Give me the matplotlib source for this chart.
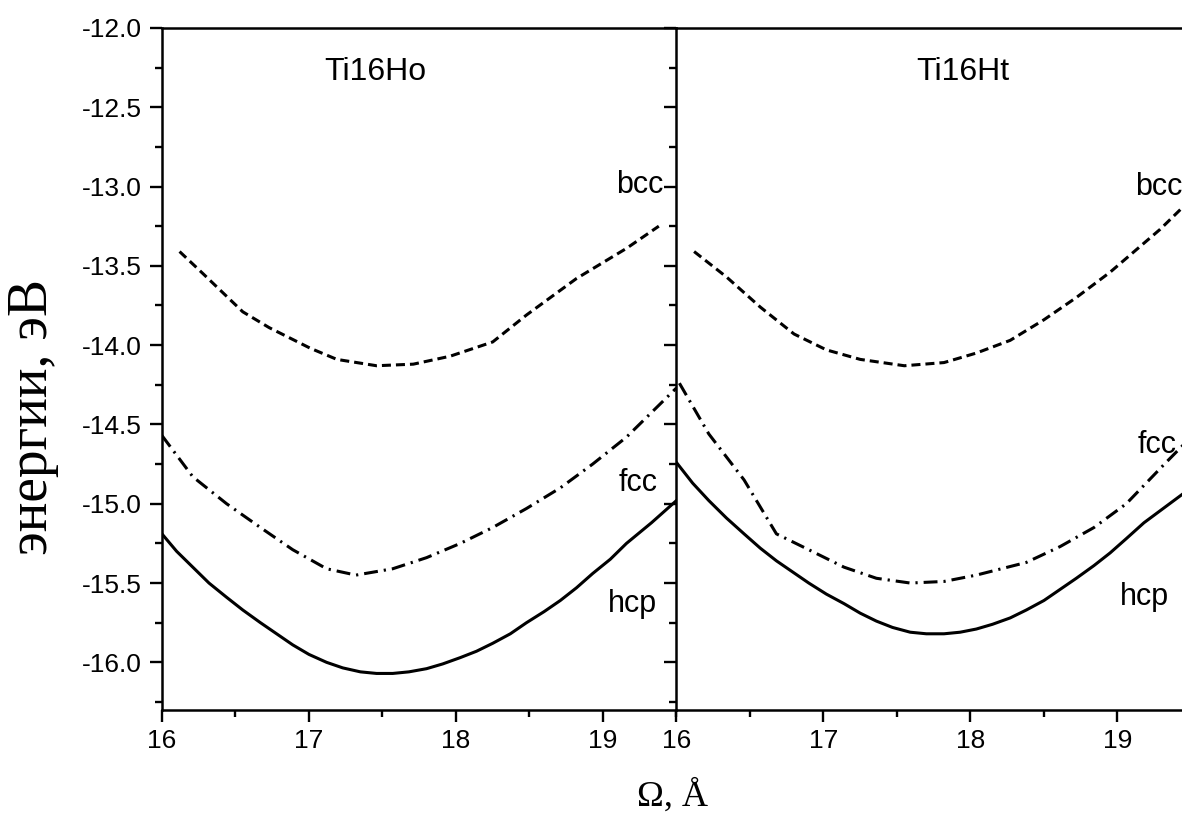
import matplotlib
matplotlib.use("Agg")
import matplotlib.pyplot as plt
from matplotlib.ticker import MultipleLocator, FormatStrFormatter

plt.rcParams['font.family'] = ['Liberation Sans', 'DejaVu Sans']
plt.rcParams['lines.scale_dashes'] = False

# Ti16Ho (левая панель)
ho_bcc_x = [16.12, 16.28, 16.55, 16.73, 17.01, 17.19, 17.46, 17.71, 17.96, 18.25, 18.48, 18.82, 19.16, 19.38]
ho_bcc_y = [-13.41, -13.55, -13.79, -13.89, -14.02, -14.09, -14.13, -14.12, -14.07, -13.98, -13.81, -13.58, -13.39, -13.25]

ho_fcc_x = [16.0, 16.21, 16.44, 16.67, 16.89, 17.12, 17.32, 17.57, 17.80, 18.03, 18.25, 18.48, 18.71, 18.93, 19.16, 19.5]
ho_fcc_y = [-14.57, -14.83, -15.0, -15.15, -15.29, -15.41, -15.45, -15.41, -15.34, -15.25, -15.15, -15.03, -14.90, -14.75, -14.58, -14.27]

ho_hcp_x = [16.0, 16.1, 16.21, 16.32, 16.44, 16.55, 16.67, 16.78, 16.89, 17.0, 17.12, 17.23, 17.35, 17.46, 17.57, 17.68,
            17.80, 17.91, 18.03, 18.14, 18.25, 18.37, 18.48, 18.6, 18.71, 18.82, 18.93, 19.05, 19.16, 19.33, 19.5]
ho_hcp_y = [-15.19, -15.30, -15.40, -15.50, -15.59, -15.67, -15.75, -15.82, -15.89, -15.95, -16.0, -16.035, -16.06, -16.07, -16.07, -16.06,
            -16.04, -16.01, -15.97, -15.93, -15.88, -15.82, -15.75, -15.68, -15.61, -15.53, -15.44, -15.35, -15.25, -15.12, -14.98]

# Ti16Ht (правая панель)
ht_bcc_x = [16.12, 16.34, 16.57, 16.80, 17.02, 17.25, 17.55, 17.82, 18.04, 18.27, 18.50, 18.72, 18.95, 19.29, 19.5]
ht_bcc_y = [-13.41, -13.57, -13.76, -13.93, -14.03, -14.09, -14.13, -14.11, -14.05, -13.97, -13.84, -13.70, -13.54, -13.27, -13.08]

ht_fcc_x = [16.02, 16.22, 16.46, 16.68, 16.90, 17.14, 17.36, 17.59, 17.82, 18.04, 18.38, 18.61, 18.84, 19.06, 19.33, 19.5]
ht_fcc_y = [-14.24, -14.56, -14.85, -15.19, -15.29, -15.40, -15.47, -15.50, -15.49, -15.45, -15.37, -15.27, -15.15, -15.00, -14.74, -14.58]

ht_hcp_x = [16.0, 16.11, 16.22, 16.34, 16.46, 16.57, 16.68, 16.79, 16.90, 17.02, 17.14, 17.25, 17.36, 17.47, 17.59, 17.70,
            17.82, 17.93, 18.04, 18.15, 18.27, 18.38, 18.50, 18.61, 18.72, 18.84, 18.95, 19.06, 19.18, 19.34, 19.5]
ht_hcp_y = [-14.74, -14.87, -14.98, -15.09, -15.19, -15.28, -15.36, -15.43, -15.50, -15.57, -15.63, -15.69, -15.74, -15.78, -15.81, -15.82,
            -15.82, -15.81, -15.79, -15.76, -15.72, -15.67, -15.61, -15.54, -15.47, -15.39, -15.31, -15.22, -15.12, -15.01, -14.90]

fig = plt.figure(figsize=(11.82, 8.16), dpi=100)
ax1 = fig.add_axes([0.137, 0.13, 0.4353, 0.8358])
ax2 = fig.add_axes([0.5723, 0.13, 0.4353, 0.8358])

dash = (0, (6.5, 3.6))
dashdot = (0, (10, 4.3, 1.6, 4.3))
lw = 2.2

ax1.plot(ho_bcc_x, ho_bcc_y, color='black', lw=lw, linestyle=dash)
ax1.plot(ho_fcc_x, ho_fcc_y, color='black', lw=lw, linestyle=dashdot)
ax1.plot(ho_hcp_x, ho_hcp_y, color='black', lw=lw, linestyle='-')

ax2.plot(ht_bcc_x, ht_bcc_y, color='black', lw=lw, linestyle=dash)
ax2.plot(ht_fcc_x, ht_fcc_y, color='black', lw=lw, linestyle=dashdot)
ax2.plot(ht_hcp_x, ht_hcp_y, color='black', lw=lw, linestyle='-')

for ax in (ax1, ax2):
    ax.set_xlim(16, 19.5)
    ax.set_ylim(-16.3, -12.0)
    ax.set_xticks([16, 17, 18, 19])
    ax.xaxis.set_minor_locator(MultipleLocator(0.5))
    ax.yaxis.set_major_locator(MultipleLocator(0.5))
    ax.yaxis.set_minor_locator(MultipleLocator(0.25))
    ax.tick_params(which='major', direction='out', length=8.6, width=1.7, labelsize=19, pad=5)
    ax.tick_params(which='minor', direction='out', length=5, width=1.7)
    ax.tick_params(top=False, right=False, which='both')
    for s in ax.spines.values():
        s.set_linewidth(1.8)
    ax.spines['right'].set_visible(False)
    ax.patch.set_alpha(0)

ax1.tick_params(axis='y', pad=6)
ax1.yaxis.set_major_formatter(FormatStrFormatter('%.1f'))
ax2.tick_params(axis='y', labelleft=False)

ax1.text(17.45, -12.28, 'Ti16Ho', fontsize=23, ha='center', va='center')
ax2.text(17.95, -12.28, 'Ti16Ht', fontsize=23, ha='center', va='center')

ax1.text(19.25, -12.99, 'bcc', fontsize=22, ha='center', va='center')
ax1.text(19.24, -14.87, 'fcc', fontsize=22, ha='center', va='center')
ax1.text(19.20, -15.63, 'hcp', fontsize=22, ha='center', va='center')
ax2.text(19.28, -13.0, 'bcc', fontsize=22, ha='center', va='center')
ax2.text(19.27, -14.63, 'fcc', fontsize=22, ha='center', va='center')
ax2.text(19.18, -15.59, 'hcp', fontsize=22, ha='center', va='center')

fig.text(0.028, 0.489, 'энергии, эВ', rotation=90, fontsize=40, ha='center', va='center',
         family=['Liberation Serif', 'DejaVu Serif'])
fig.text(0.569, 0.013, 'Ω, Å', fontsize=26, ha='center', va='baseline',
         family=['Liberation Serif', 'DejaVu Serif'])

fig.savefig('out.png', dpi=100)
